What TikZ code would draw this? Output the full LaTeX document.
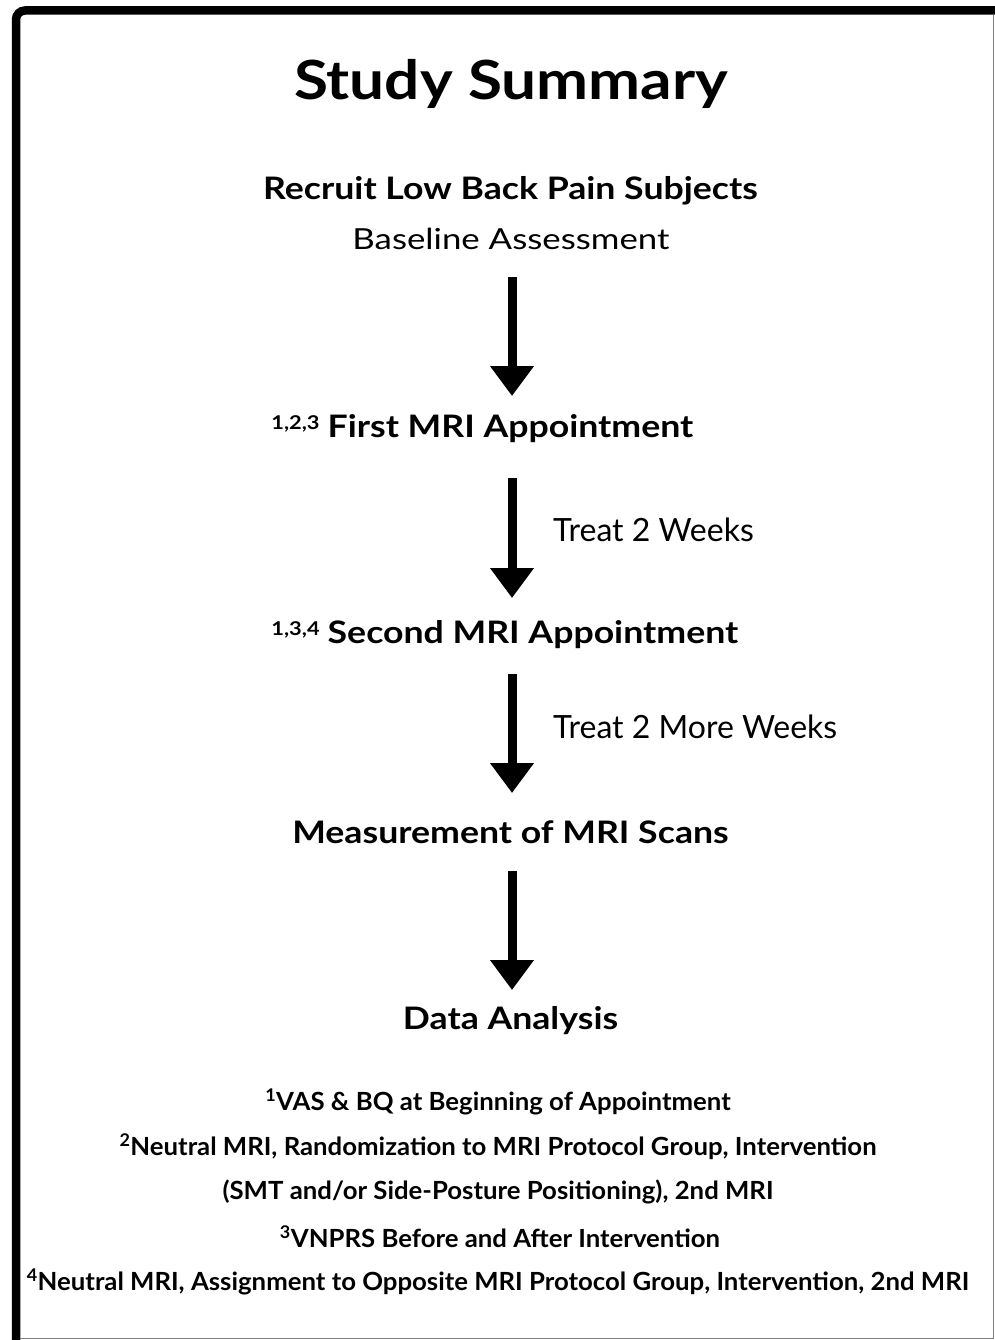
\documentclass[tikz,border=0pt]{standalone}
\usepackage{fontspec}
\setmainfont{Lato}
\newfontfamily\widefont{Lato}[FakeStretch=1.15]
\newfontfamily\basefont{Lato}[FakeStretch=1.2]
\newfontfamily\notefont{Lato}[FakeStretch=1.03]
\usetikzlibrary{arrows.meta}
\begin{document}
\begin{tikzpicture}[x=1pt,y=-1pt]
    \tikzstyle{title}=[font=\widefont\fontsize{54}{60}\selectfont\bfseries, inner sep=0pt]
    \tikzstyle{stage}=[font=\widefont\fontsize{31}{36}\selectfont\bfseries, inner sep=0pt]
    \tikzstyle{plain}=[font=\basefont\fontsize{29}{34}\selectfont, inner sep=0pt]
    \tikzstyle{treat}=[font=\fontsize{32}{36}\selectfont, inner sep=0pt, anchor=west]
    \tikzstyle{note}=[font=\notefont\fontsize{25}{28}\selectfont\bfseries, inner sep=0pt]
    \tikzstyle{flow}=[line width=9pt, -{Triangle[width=42pt,length=30pt]}]
    \newcommand{\supmark}[1]{\llap{\smash{\raisebox{8pt}{\fontsize{19}{20}\selectfont #1}}\hspace{8pt}}}

    \useasboundingbox (0,0) rectangle (994,1340);
    \draw[line width=8.5pt, rounded corners=9pt] (16,1344) -- (16,10.5) -- (998,10.5);
    \draw[gray, line width=1pt] (993,15) -- (993,1338) -- (20,1338);

    \coordinate (axis) at (512,0);

    \node[title] (title) at (511,84) {Study Summary};
    \node[stage] (recruit) at (510.5,191) {Recruit Low Back Pain Subjects};
    \node[plain] (base) at (511,239) {Baseline Assessment};
    \node[stage] (first) at (510.5,429) {\supmark{1,2,3}First MRI Appointment};
    \node[stage] (second) at (533,635) {\supmark{1,3,4}Second MRI Appointment};
    \node[stage] (measure) at (510.5,832) {Measurement of MRI Scans};
    \node[stage] (data) at (510.5,1021) {Data Analysis};

    \node[treat] (treat) at (553,530) {Treat 2 Weeks};
    \node[treat] (treatmore) at (553,727) {Treat 2 More Weeks};

    \draw[flow, shorten <=38pt, shorten >=33pt] (base -| axis) -- (first -| axis);
    \draw[flow, shorten <=49pt, shorten >=37pt] (first -| axis) -- (second -| axis);
    \draw[flow, shorten <=39pt, shorten >=39pt] (second -| axis) -- (measure -| axis);
    \draw[flow, shorten <=39pt, shorten >=31pt] (measure -| axis) -- (data -| axis);

    % footnotes
    \node[note] (n1) at (498,1102) {\textsuperscript{1}VAS \& BQ at Beginning of Appointment};
    \node[note] (n2) at (498,1147) {\textsuperscript{2}Neutral MRI, Randomization to MRI Protocol Group, Intervention};
    \node[note] (n2b) at (498,1192) {(SMT and/or Side-Posture Positioning), 2nd MRI};
    \node[note] (n3) at (500,1237) {\textsuperscript{3}VNPRS Before and After Intervention};
    \node[note] (n4) at (498,1282) {\textsuperscript{4}Neutral MRI, Assignment to Opposite MRI Protocol Group, Intervention, 2nd MRI};
\end{tikzpicture}
\end{document}
